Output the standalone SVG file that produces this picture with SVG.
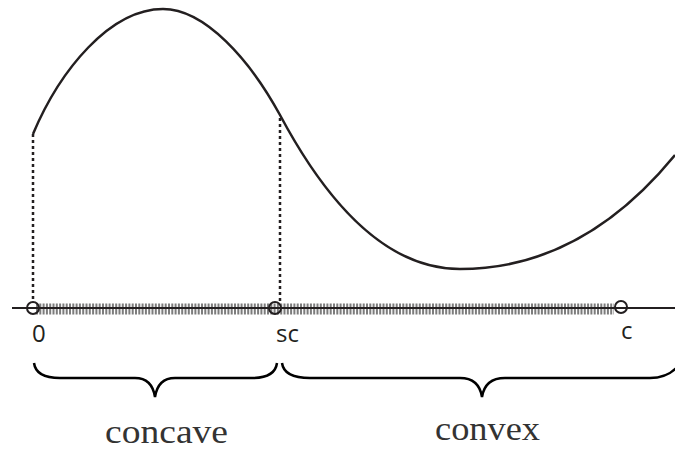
<svg xmlns="http://www.w3.org/2000/svg" width="675" height="449" viewBox="0 0 675 449">
<style>
.curve{fill:none;stroke:#231f20;stroke-width:2.5}
.dot{fill:none;stroke:#231f20;stroke-width:2.5;stroke-dasharray:3 3}
.axis{fill:none;stroke:#231f20;stroke-width:2}
.band{fill:none;stroke:#7d7d7d;stroke-width:11;stroke-dasharray:2 1.3}
.pt{fill:none;stroke:#231f20;stroke-width:2}
.brace{fill:none;stroke:#000;stroke-width:2.5}
.lbl{font-family:"Open Sans","Noto Sans",sans-serif;font-size:24px;fill:#231f20}
.big{font-family:"Liberation Serif",serif;font-size:34px;fill:#333}
</style>
<rect width="675" height="449" fill="#fff"/>
<g id="band"><line class="band" x1="36" y1="309" x2="614" y2="309"/></g>
<g id="axis"><line class="axis" x1="12" y1="308" x2="675" y2="308"/></g>
<g id="curve"><path class="curve" d="M33,134 C60,70 110,9 163,9 C205,9 250,60 280,115 C320,190 380,269 460,269 C560,269 630,210 675,155"/></g>
<g id="connectors">
<line class="dot" x1="33" y1="134" x2="33" y2="303"/>
<line class="dot" x1="280" y1="118" x2="280" y2="303"/>
</g>
<g id="p0"><circle class="pt" cx="33" cy="308" r="6"/><text class="lbl" x="32" y="342">0</text></g>
<g id="psc"><circle class="pt" cx="275" cy="308" r="6"/><text class="lbl" x="276" y="342">sc</text></g>
<g id="pc"><circle class="pt" cx="621" cy="307" r="6"/><text class="lbl" x="621" y="339">c</text></g>
<g id="brace-concave"><path class="brace" d="M34,363 Q36,378 60,378 L135,378 Q152,378 155,397 Q158,378 175,378 L252,378 Q275,378 277,363"/>
<text class="big" x="105" y="443" textLength="123" lengthAdjust="spacingAndGlyphs">concave</text></g>
<g id="brace-convex"><path class="brace" d="M282,363 Q284,378 310,378 L460,378 Q479,378 482,397 Q485,378 505,378 L650,378 Q668,378 678,366"/>
<text class="big" x="435" y="440" textLength="105" lengthAdjust="spacingAndGlyphs">convex</text></g>
</svg>
